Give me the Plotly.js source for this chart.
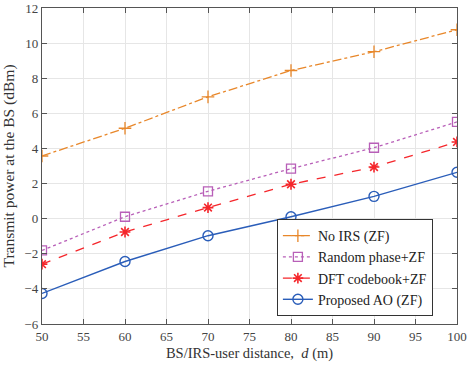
<!DOCTYPE html>
<html><head><meta charset="utf-8">
<script src="https://cdn.plot.ly/plotly-3.0.1.min.js"></script>
<style>html,body{margin:0;padding:0;background:#fff}#c{width:467px;height:371px}</style>
</head><body><div id="c"></div>
<script>
const distance = [50, 60, 70, 80, 90, 100];
const noIRS = [3.57, 5.15, 6.94, 8.44, 9.51, 10.76];
const randomPhase = [-1.81, 0.11, 1.56, 2.85, 4.04, 5.51];
const dftCodebook = [-2.59, -0.76, 0.63, 1.96, 2.94, 4.37];
const proposedAO = [-4.26, -2.44, -0.97, 0.11, 1.27, 2.64];
const xTicks = [50, 55, 60, 65, 70, 75, 80, 85, 90, 95, 100];
const yTicks = [-6, -4, -2, 0, 2, 4, 6, 8, 10, 12];
const names = ['No IRS (ZF)', 'Random phase+ZF', 'DFT codebook+ZF', 'Proposed AO (ZF)'];

const F = '"Liberation Serif", serif';
const traces = [
  {x: distance, y: noIRS, name: names[0], mode: 'lines+markers',
   line: {color: '#E8872A', width: 1.3, dash: 'dashdot'},
   marker: {symbol: 'cross-thin-open', size: 9, color: '#E8872A', line: {color: '#E8872A', width: 1.3}}},
  {x: distance, y: randomPhase, name: names[1], mode: 'lines+markers',
   line: {color: '#B85FB8', width: 1.3, dash: 'dot'},
   marker: {symbol: 'square-open', size: 9, color: '#B85FB8', line: {width: 1.3}}},
  {x: distance, y: dftCodebook, name: names[2], mode: 'lines+markers',
   line: {color: '#F5262B', width: 1.3, dash: 'dash'},
   marker: {symbol: 'asterisk-open', size: 9, color: '#F5262B', line: {color: '#F5262B', width: 1.6}}},
  {x: distance, y: proposedAO, name: names[3], mode: 'lines+markers',
   line: {color: '#2A5DB9', width: 1.4},
   marker: {symbol: 'circle-open', size: 10, color: '#2A5DB9', line: {width: 1.4}}}
];
const axisCommon = {
  showline: true, mirror: 'ticks', linecolor: '#555', linewidth: 1.2,
  ticks: 'inside', ticklen: 5, tickcolor: '#555',
  showgrid: true, gridcolor: '#E6E6E6', gridwidth: 1, zeroline: false,
  ticklabeloverflow: 'allow',
  tickfont: {family: F, size: 13, color: '#444'}
};
const layout = {
  width: 467, height: 371,
  margin: {l: 42, r: 10, t: 8, b: 47},
  paper_bgcolor: '#fff', plot_bgcolor: '#fff',
  font: {family: F, color: '#333'},
  showlegend: true,
  legend: {x: 0.566, y: 0.025, xanchor: 'left', yanchor: 'bottom',
    bgcolor: '#fff', bordercolor: '#333', borderwidth: 1,
    font: {family: F, size: 14, color: '#222'}, tracegroupgap: 0},
  xaxis: Object.assign({}, axisCommon, {range: [50, 100], tickvals: xTicks,
    title: {text: 'BS/IRS-user distance,  <i>d</i> (m)', font: {family: F, size: 14.5, color: '#333'}, standoff: 5}}),
  yaxis: Object.assign({}, axisCommon, {range: [-6, 12], tickvals: yTicks,
    title: {text: 'Transmit power at the BS (dBm)', font: {family: F, size: 15.5, color: '#333'}, standoff: 7}})
};
Plotly.newPlot('c', traces, layout, {displayModeBar: false, staticPlot: true});
</script></body></html>
